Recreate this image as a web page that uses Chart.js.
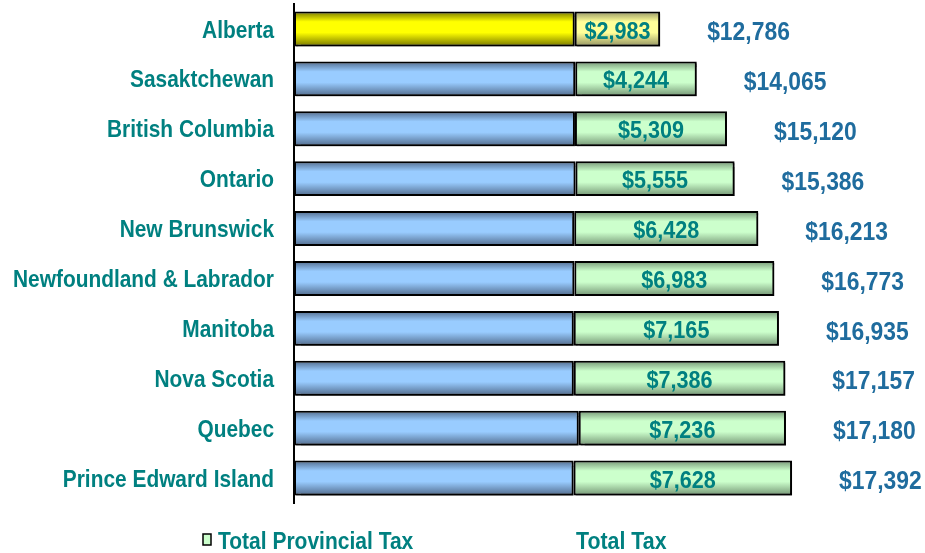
<!DOCTYPE html>
<html>
<head>
<meta charset="utf-8">
<script src="https://cdn.jsdelivr.net/npm/chart.js@4/dist/chart.umd.min.js"></script>
<style>
  html, body { margin: 0; padding: 0; background: #fff; }
  #wrap { width: 925px; height: 553px; position: relative; }
</style>
</head>
<body>
<div id="wrap"><canvas id="chart"></canvas></div>
<script>
// ---- data ----
const provinces = ['Alberta', 'Sasaktchewan', 'British Columbia', 'Ontario', 'New Brunswick',
  'Newfoundland & Labrador', 'Manitoba', 'Nova Scotia', 'Quebec', 'Prince Edward Island'];
const provincialTax = [2983, 4244, 5309, 5555, 6428, 6983, 7165, 7386, 7236, 7628];
const totalTax = [12786, 14065, 15120, 15386, 16213, 16773, 16935, 17157, 17180, 17392];
const federalTax = totalTax.map((t, i) => t - provincialTax[i]);

const FONT = "'Liberation Sans', Arial, sans-serif";
const TEAL = '#008080';
const TOTAL_BLUE = '#1f6c9e';

// the original uses a narrow face; squeeze the regular bold one horizontally
function narrowText(c, text, x, y, align, size, sx) {
  c.save();
  c.font = 'bold ' + size + 'px ' + FONT;
  c.textAlign = align;
  c.textBaseline = 'middle';
  c.translate(x, y);
  c.scale(sx, 1);
  c.fillText(text, 0, 0);
  c.restore();
}

const money = v => '$' + v.toLocaleString('en-US');

// vertical "tube" gradient for each bar: dark edges, light middle
function tube(ctx, edge, mid) {
  const chart = ctx.chart;
  const y = chart.scales && chart.scales.y;
  if (!chart.chartArea || !y || ctx.dataIndex === undefined) return mid;
  const c = y.getPixelForValue(ctx.dataIndex);
  const h = 18;
  const g = chart.ctx.createLinearGradient(0, c - h, 0, c + h);
  g.addColorStop(0, edge);
  g.addColorStop(0.3, mid);
  g.addColorStop(0.6, mid);
  g.addColorStop(1, edge);
  return g;
}

// shadow under bars
const barShadow = {
  id: 'barShadow',
  beforeDatasetsDraw(chart) {
    const c = chart.ctx;
    c.save();
    c.shadowColor = 'rgba(0,0,0,0.55)';
    c.shadowOffsetX = 2;
    c.shadowOffsetY = 2;
    c.shadowBlur = 1;
  },
  afterDatasetsDraw(chart) {
    chart.ctx.restore();
  }
};

// category names, provincial values inside green, totals to the right
const textLayer = {
  id: 'textLayer',
  afterDatasetsDraw(chart) {
    const c = chart.ctx;
    const yScale = chart.scales.y;
    c.save();
    c.fillStyle = TEAL;
    provinces.forEach((name, i) => {
      narrowText(c, name, yScale.right - 20, yScale.getPixelForValue(i) + 2, 'right', 24, 0.87);
    });
    chart.getDatasetMeta(1).data.forEach((bar, i) => {
      c.fillStyle = TEAL;
      narrowText(c, money(provincialTax[i]), (bar.base + bar.x) / 2, bar.y + 3, 'center', 24, 0.9);
      c.fillStyle = TOTAL_BLUE;
      narrowText(c, money(totalTax[i]), bar.x + 47, bar.y + 4, 'left', 26, 0.88);
    });
    c.restore();
  }
};

// legend row under the plot
const bottomLegend = {
  id: 'bottomLegend',
  afterDraw(chart) {
    const c = chart.ctx;
    c.save();
    c.fillStyle = '#ccffcc';
    c.fillRect(203, 534, 8, 11);
    c.strokeStyle = '#000';
    c.lineWidth = 1.5;
    c.strokeRect(203, 534, 8, 11);
    c.fillStyle = TEAL;
    narrowText(c, 'Total Provincial Tax', 218, 542, 'left', 24, 0.875);
    narrowText(c, 'Total Tax', 576, 542, 'left', 24, 0.89);
    c.restore();
  }
};

new Chart(document.getElementById('chart'), {
  type: 'bar',
  data: {
    labels: provinces,
    datasets: [
      {
        label: 'Federal Tax',
        data: federalTax,
        backgroundColor: ctx => ctx.dataIndex === 0 ? tube(ctx, '#6f6f00', '#ffff00') : tube(ctx, '#4d6585', '#99ccff'),
        borderColor: '#000',
        borderWidth: 2,
        borderSkipped: false
      },
      {
        label: 'Total Provincial Tax',
        data: provincialTax,
        backgroundColor: ctx => ctx.dataIndex === 0 ? tube(ctx, '#8f8f60', '#ffff99') : tube(ctx, '#6f8f6f', '#ccffcc'),
        borderColor: '#000',
        borderWidth: 2,
        borderSkipped: false
      }
    ]
  },
  options: {
    indexAxis: 'y',
    responsive: true,
    maintainAspectRatio: false,
    animation: false,
    layout: { padding: { top: 4, bottom: 50, right: 1, left: 0 } },
    barPercentage: 1,
    categoryPercentage: 0.7,
    scales: {
      x: {
        stacked: true,
        min: 0,
        max: 22000,
        display: false
      },
      y: {
        stacked: true,
        grid: { display: false, drawTicks: false },
        border: { display: true, color: '#000', width: 2 },
        ticks: { display: false },
        afterFit(scale) {
          scale.width = 294;
          scale.paddingTop = 0;
          scale.paddingBottom = 0;
        }
      }
    },
    plugins: {
      legend: { display: false },
      tooltip: { enabled: false }
    }
  },
  plugins: [barShadow, textLayer, bottomLegend]
});
</script>
</body>
</html>
